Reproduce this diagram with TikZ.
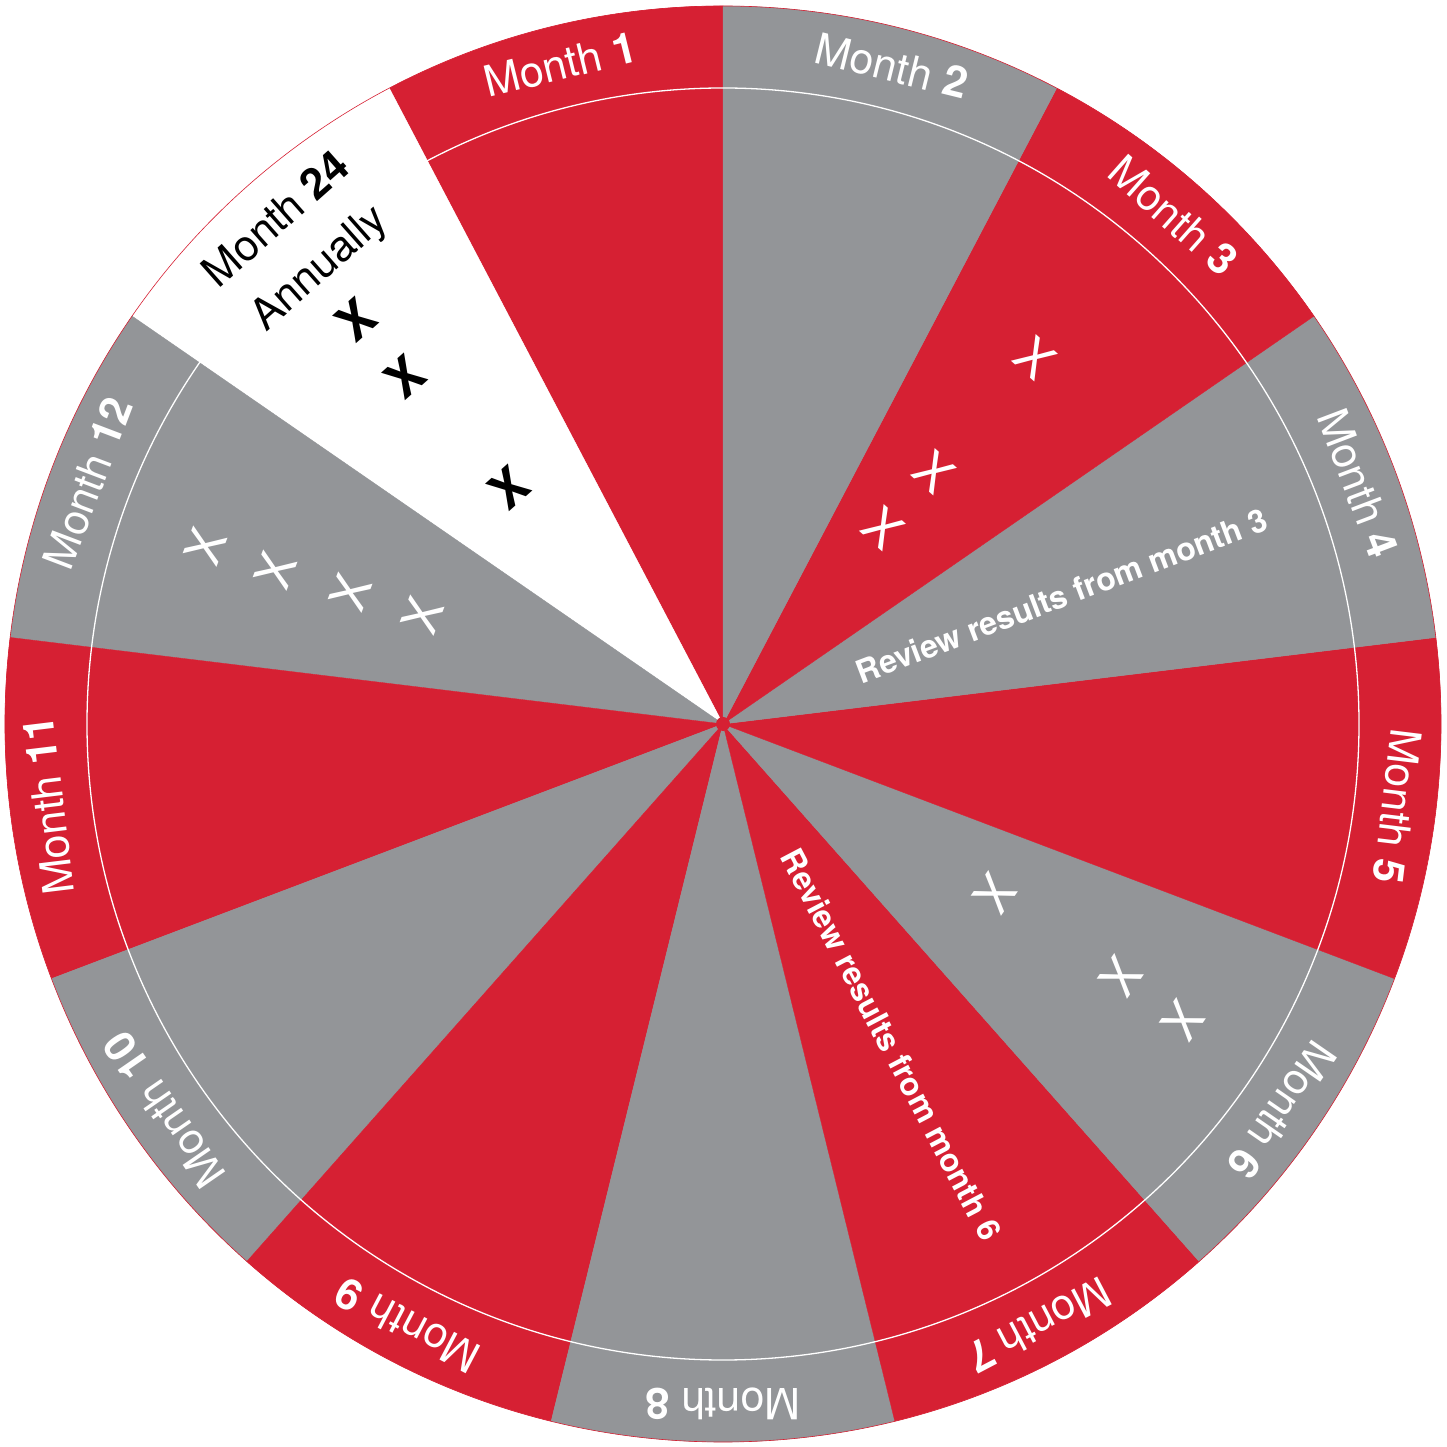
\documentclass[tikz,border=0pt]{standalone}
\usepackage{fontspec}
\setmainfont{TeX Gyre Heros}
\definecolor{wheelred}{HTML}{D62033}
\definecolor{wheelgray}{HTML}{939598}
\tikzset{
  monthlabel/.style={anchor=base, inner sep=0pt, font=\fontsize{43}{52}\selectfont, text=white},
  reviewtext/.style={anchor=center, inner sep=0pt, font=\fontsize{32}{38}\selectfont\bfseries, text=white},
  crossmark/.style={anchor=center, inner sep=0pt, font=\fontsize{50}{60}\selectfont, text=white},
  boldcross/.style={crossmark, font=\fontsize{50}{60}\selectfont\bfseries, text=black}
}
\begin{document}
\begin{tikzpicture}[x=1pt,y=1pt]
\useasboundingbox (-723pt,-723pt) rectangle (724pt,724pt);
% sectors
\foreach \c [count=\i from 0] in {wheelred,white,wheelgray,wheelred,wheelgray,wheelred,wheelgray,wheelred,wheelgray,wheelred,wheelgray,wheelred,wheelgray} {
  \pgfmathsetmacro\a{90+\i*360/13}
  \pgfmathsetmacro\b{\a+360/13}
  \fill[\c, draw=\c, line width=0.4pt, line join=round] (0,0) -- (\a:718pt) arc[start angle=\a, end angle=\b, radius=718pt] -- cycle;
}
% inner ring line and outline
\draw[white, line width=1.3pt] (0,0) circle[radius=636pt];
\draw[wheelred, line width=0.6pt] (0,0) circle[radius=718pt];
\fill[wheelred] (0,0) circle[radius=7pt];

% month labels
\node[monthlabel, rotate=13.846]  (m1)  at (103.846:664pt) {Month \textbf{1}};
\node[monthlabel, rotate=-13.846] (m2)  at (75.6:664pt)    {Month \textbf{2}};
\node[monthlabel, rotate=-41.538] (m3)  at (48.462:664pt)  {Month \textbf{3}};
\node[monthlabel, rotate=-69.231] (m4)  at (20.769:664pt)  {Month \textbf{4}};
\node[monthlabel, rotate=-96.923] (m5)  at (-6.923:664pt)  {Month \textbf{5}};
\node[monthlabel, rotate=-124.615] (m6) at (-34.615:664pt) {Month \textbf{6}};
\node[monthlabel, rotate=-152.308] (m7) at (-62.308:664pt) {Month \textbf{7}};
\node[monthlabel, rotate=180]     (m8)  at (270:664pt)     {Month \textbf{8}};
\node[monthlabel, rotate=152.308] (m9)  at (242.308:664pt) {Month \textbf{9}};
\node[monthlabel, rotate=124.615] (m10) at (214.615:664pt) {Month \textbf{10}};
\node[monthlabel, rotate=96.923]  (m11) at (186.923:664pt) {Month \textbf{11}};
\node[monthlabel, rotate=69.231]  (m12) at (159.231:664pt) {Month \textbf{12}};
\node[monthlabel, anchor=center, align=center, font=\fontsize{43}{64}\selectfont, rotate=41.538, text=black] (m24) at (131.538:639pt) {Month \textbf{24}\\Annually};

% review texts
\node[reviewtext, rotate=20.769]  (rev3) at (20.769:362pt)  {Review results from month 3};
\node[reviewtext, rotate=-62.308] (rev6) at (-62.308:362pt) {Review results from month 6};

% crosses month 3
\node[crossmark, rotate=-41.538] (x3a) at (49.5:481pt) {X};
\node[crossmark, rotate=-41.538] (x3b) at (50.1:329pt) {X};
\node[crossmark, rotate=-41.538] (x3c) at (50.8:253pt) {X};
% crosses month 24
\node[boldcross, rotate=41.538] (x24a) at (132.3:546pt) {X};
\node[boldcross, rotate=41.538] (x24b) at (132.5:471pt) {X};
\node[boldcross, rotate=41.538] (x24c) at (132.1:319pt) {X};
% crosses month 12
\node[crossmark, rotate=69.231] (x12a) at (161.1:547pt) {X};
\node[crossmark, rotate=69.231] (x12b) at (161.0:473pt) {X};
\node[crossmark, rotate=69.231] (x12c) at (160.6:395pt) {X};
\node[crossmark, rotate=69.231] (x12d) at (160.1:320pt) {X};
% crosses month 6
\node[crossmark, rotate=-124.615] (x6a) at (-31.9:320pt) {X};
\node[crossmark, rotate=-124.615] (x6b) at (-32.4:472pt) {X};
\node[crossmark, rotate=-124.615] (x6c) at (-32.8:547pt) {X};
\end{tikzpicture}
\end{document}
